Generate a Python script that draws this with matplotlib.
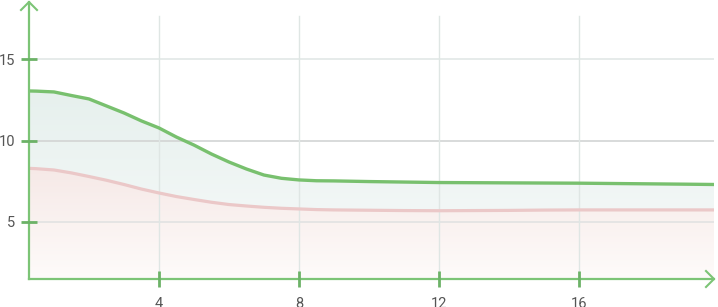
import numpy as np
import matplotlib.pyplot as plt
from matplotlib.colors import LinearSegmentedColormap

plt.rcParams['font.family'] = ['Roboto', 'DejaVu Sans']

# values
x_vals = [0.29, 0.5, 1, 1.5, 2, 2.5, 3, 3.5, 4, 4.5, 5, 5.5, 6, 6.5, 7, 7.5, 8, 8.5, 9,
          10, 11, 12, 13, 14, 15, 16, 17, 18, 19, 19.86]
green_vals = [13.04, 13.03, 12.98, 12.76, 12.55, 12.12, 11.69, 11.20, 10.77, 10.21, 9.72,
              9.17, 8.68, 8.25, 7.88, 7.68, 7.58, 7.53, 7.52,
              7.48, 7.45, 7.42, 7.41, 7.40, 7.39, 7.38, 7.36, 7.34, 7.32, 7.30]
red_vals = [8.29, 8.27, 8.19, 8.01, 7.79, 7.56, 7.30, 7.02, 6.78, 6.56, 6.38,
            6.21, 6.07, 5.98, 5.90, 5.84, 5.80, 5.76, 5.74,
            5.72, 5.70, 5.69, 5.70, 5.71, 5.73, 5.74, 5.74, 5.74, 5.74, 5.74]
x_ticks = [4, 8, 12, 16]
y_ticks = [5, 10, 15]

AXIS = '#7cc476'
TICK = '#6cb267'
XMIN, XMAX = 0.286, 19.86
YMIN, YMAX = 1.5, 18.5


def gradient_fill(ax, x, y, top_rgb, bot_rgb, z):
    poly = ax.fill_between(x, y, YMIN, color='none', lw=0)
    cmap = LinearSegmentedColormap.from_list('g', [np.array(bot_rgb) / 255, np.array(top_rgb) / 255])
    top = max(y)
    grad = np.linspace(1, 0, 256).reshape(-1, 1)
    im = ax.imshow(grad, cmap=cmap, aspect='auto', extent=[XMIN, XMAX, YMIN, top],
                   origin='upper', zorder=z, interpolation='bilinear')
    im.set_clip_path(poly.get_paths()[0], transform=ax.transData)


fig = plt.figure(figsize=(7.18, 3.07), dpi=100)
W, H = 718, 307
ax = fig.add_axes([29 / W, 1 - 279 / H, (714 - 29) / W, (279 - 2) / H])

gradient_fill(ax, x_vals, green_vals, (230, 240, 237), (249, 251, 251), 1)
gradient_fill(ax, x_vals, red_vals, (246, 233, 231), (254, 251, 250), 2)

# grid
ax.axhline(15, color='#e1e8e6', lw=1.2, zorder=3)
ax.axhline(10, color='#d2d4d4', lw=1.2, zorder=3)
ax.axhline(5, color='#e2e2e2', lw=1.2, zorder=3)
for xv in x_ticks:
    ax.plot([xv, xv], [YMIN, 17.65], color='#dfe6e4', lw=1.0, zorder=3)

ax.plot(x_vals, red_vals, color='#ebc8c8', lw=2.3, zorder=4, solid_capstyle='butt')
ax.plot(x_vals, green_vals, color='#78c06e', lw=2.4, zorder=5, solid_capstyle='butt',
        solid_joinstyle='round')

ax.set_xlim(XMIN, XMAX)
ax.set_ylim(YMIN, YMAX)
for s in ['top', 'right']:
    ax.spines[s].set_visible(False)
for s in ['left', 'bottom']:
    ax.spines[s].set_color(AXIS)
    ax.spines[s].set_linewidth(1.6)
    ax.spines[s].set_zorder(7)
ax.xaxis.set_zorder(8)
ax.yaxis.set_zorder(8)

ax.set_xticks(x_ticks)
ax.set_yticks(y_ticks)
ax.tick_params(axis='both', direction='inout', length=11.5, width=2, color=TICK,
               labelcolor='#555555', labelsize=10.5)
ax.tick_params(axis='y', pad=4.3)
ax.tick_params(axis='x', pad=7.5)

# arrow heads
aw, ah = 714 - 29, 279 - 2
ax.plot([-8 / aw, 0, 8 / aw], [1 - 8 / ah, 1, 1 - 8 / ah], color=AXIS, lw=1.5,
        transform=ax.transAxes, clip_on=False, zorder=9)
ax.plot([1 - 8 / aw, 1, 1 - 8 / aw], [8 / ah, 0, -8 / ah], color=AXIS, lw=1.5,
        transform=ax.transAxes, clip_on=False, zorder=9)

fig.savefig('out.png', dpi=100)
